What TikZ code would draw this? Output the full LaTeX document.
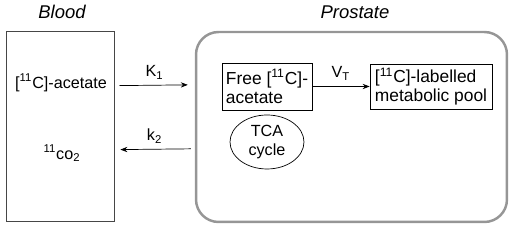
\documentclass[tikz,border=0pt]{standalone}
\usepackage{fontspec}
\setmainfont{Liberation Sans}
\usepackage{tikz}
\usetikzlibrary{shapes.geometric,arrows.meta,positioning,calc}
\definecolor{frameGray}{RGB}{150,150,150}
\definecolor{boxGray}{RGB}{70,70,70}

\begin{document}
\begin{tikzpicture}[
        x=0.02cm, y=-0.02cm, >={Stealth[length=4pt,width=3pt]},
        font=\fontsize{9.2}{10.5}\selectfont,
        box/.style={draw, thin, inner sep=2pt, align=left,
          font=\fontsize{9.9}{11}\selectfont},
        arr/.style={->, thin}
      ]
        \useasboundingbox (0,0) rectangle (512,229);
        % Compartments
        \node[font=\fontsize{10.5}{12}\selectfont\itshape] (tblood) at (62,12) {Blood};
        \node[font=\fontsize{10.5}{12}\selectfont\itshape] (tprost) at (355,12) {Prostate};
        \node[draw=boxGray, minimum width=2.16cm, minimum height=3.8cm] (blood) at (60,126) {};
        \node[draw=frameGray, line width=1.4pt, rounded corners=0.45cm,
          minimum width=6.22cm, minimum height=3.8cm] (prost) at (351.5,127) {};
        % Blood contents
        \node (bacet) at (61,83) {[\textsuperscript{11}C]-acetate};
        \node (bco) at (62,153) {\textsuperscript{11}co\textsubscript{2}};
        % Prostate contents
        \node[box, minimum width=1.8cm, minimum height=0.94cm] (free) at (267,86.5)
          {Free [\textsuperscript{11}C]-\\acetate};
        \node[box, minimum width=2.44cm, minimum height=0.82cm] (pool) at (431,86.5)
          {[\textsuperscript{11}C]-labelled\\metabolic pool};
        \node[ellipse, draw, thin, minimum width=1.48cm, minimum height=1.08cm,
          inner sep=0pt, align=center] (tca) at (267,142) {TCA\\cycle};
        % Exchange
        \draw[arr, shorten <=0.1cm, shorten >=0.14cm]
          ($(blood.north east)+(0,55)$) -- node[above]{K\textsubscript{1}} ($(prost.north west)+(0,54)$);
        \draw[arr, shorten <=0.08cm, shorten >=0.12cm]
          ($(prost.north west)+(0,118)$) -- node[above]{k\textsubscript{2}} ($(blood.north east)+(0,119)$);
        \draw[arr] (free) -- node[above]{V\textsubscript{T}} (pool);
      \end{tikzpicture}
\end{document}
